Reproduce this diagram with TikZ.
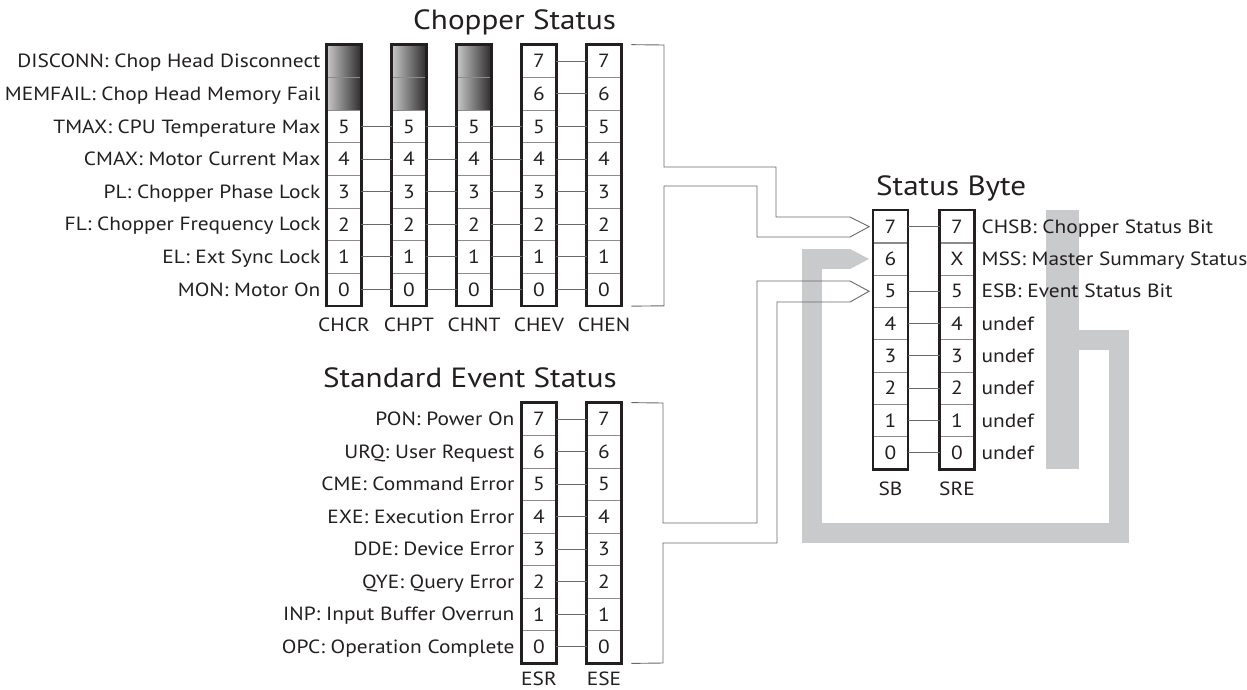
\documentclass[tikz,border=0pt]{standalone}
\usepackage{fontspec}
\setmainfont{PT Sans}[FakeStretch=1.12]
\usetikzlibrary{calc}
\definecolor{ink}{RGB}{35,31,32}
\definecolor{sumgray}{RGB}{201,202,204}
\definecolor{sepgray}{RGB}{140,140,140}
\definecolor{wiregray}{RGB}{105,105,105}
\tikzset{
  cell/.style={draw=sepgray, line width=0.8pt, minimum width=34pt, minimum height=32.5pt,
    inner sep=0pt, font=\fontsize{19.1}{19}\selectfont, text=ink},
  shadecell/.style={cell, left color=black!22, right color=black!82},
  frame/.style={draw=ink, line width=2.4pt},
  wire/.style={draw=wiregray, line width=0.9pt},
  bus/.style={draw=wiregray, line width=0.9pt},
  lbl/.style={inner sep=0pt, text height=13.3pt, text depth=0pt,
    font=\fontsize{19.1}{19}\selectfont, text=ink},
  collbl/.style={inner sep=0pt, anchor=base, font=\fontsize{19.1}{19}\selectfont, text=ink},
  title/.style={inner sep=0pt, anchor=base west, font=\fontsize{27.8}{28}\selectfont, text=ink},
}
\begin{document}
\begin{tikzpicture}[x=1pt,y=-1pt]
\useasboundingbox (0,0) rectangle (1247,689);

% ---------- summary (gray) bar, drawn first so text lies on top
\node[fill=sumgray, minimum width=33pt, minimum height=259pt, inner sep=0pt] (sumbar) at (1062.5,339.5) {};

% ---------- Chopper Status registers
\node[title] (tchop) at (413,29) {Chopper Status};
\foreach \n/\x in {cr/344,pt/409,nt/474,ev/539,en/604} {
  \foreach \r in {0,...,5} {
    \node[cell] (\n\r) at (\x,{45+(7.5-\r)*32.6}) {\r};
  }
}
\foreach \n/\x in {cr/344,pt/409,nt/474} {
  \foreach \r in {6,7} {
    \node[shadecell] (\n\r) at (\x,{45+(7.5-\r)*32.6}) {};
  }
}
\foreach \n/\x in {ev/539,en/604} {
  \foreach \r in {6,7} {
    \node[cell] (\n\r) at (\x,{45+(7.5-\r)*32.6}) {\r};
  }
}
\foreach \n/\t in {cr/CHCR,pt/CHPT,nt/CHNT,ev/CHEV,en/CHEN} {
  \draw[frame] (\n7.north west) rectangle (\n0.south east);
  \node[collbl] (\n lab) at ($(\n0.south)+(0,25)$) {\t};
}
\foreach \a/\b in {cr/pt,pt/nt,nt/ev,ev/en} {
  \foreach \r in {0,...,5} { \draw[wire] (\a\r.east) -- (\b\r.west); }
}
\foreach \r in {6,7} { \draw[wire] (ev\r.east) -- (en\r.west); }
\foreach \r/\t in {7/DISCONN: Chop Head Disconnect,6/MEMFAIL: Chop Head Memory Fail,
  5/TMAX: CPU Temperature Max,4/CMAX: Motor Current Max,3/PL: Chopper Phase Lock,
  2/FL: Chopper Frequency Lock,1/EL: Ext Sync Lock,0/MON: Motor On} {
  \node[lbl, anchor=east] (cl\r) at ($(cr\r.west)+(-6,0)$) {\t};
}

% ---------- Standard Event Status registers
\node[title] (tses) at (323,387) {Standard Event Status};
\foreach \n/\x in {esr/539,ese/604} {
  \foreach \r in {0,...,7} {
    \node[cell] (\n\r) at (\x,{403+(7.5-\r)*32.5}) {\r};
  }
}
\foreach \n/\t in {esr/ESR,ese/ESE} {
  \draw[frame] (\n7.north west) rectangle (\n0.south east);
  \node[collbl] (\n lab) at ($(\n0.south)+(0,22)$) {\t};
}
\foreach \r in {0,...,7} { \draw[wire] (esr\r.east) -- (ese\r.west); }
\foreach \r/\t in {7/PON: Power On,6/URQ: User Request,5/CME: Command Error,
  4/EXE: Execution Error,3/DDE: Device Error,2/QYE: Query Error,
  1/INP: Input Buffer Overrun,0/OPC: Operation Complete} {
  \node[lbl, anchor=east] (el\r) at ($(esr\r.west)+(-7,0)$) {\t};
}

% ---------- Status Byte
\node[title] (tsb) at (876,195) {Status Byte};
\foreach \r in {0,...,7} {
  \node[cell] (sb\r) at (890.5,{210.5+(7.5-\r)*32.3}) {\r};
}
\foreach \r/\t in {7/7,6/X,5/5,4/4,3/3,2/2,1/1,0/0} {
  \node[cell] (sre\r) at (957,{210.5+(7.5-\r)*32.3}) {\t};
}
\foreach \n/\t in {sb/SB,sre/SRE} {
  \draw[frame] (\n7.north west) rectangle (\n0.south east);
  \node[collbl] (\n lab) at ($(\n0.south)+(0,26)$) {\t};
}
\foreach \r in {7,5,4,3,2,1,0} { \draw[wire] (sb\r.east) -- (sre\r.west); }

% gray summary path into SB bit 6
\draw[sumgray, line width=20pt] (sumbar.east) -- (1119,339.5) -- (1119,533) -- (811.5,533) -- (811.5,259) -- (850.5,259);
\fill[sumgray] (850,249) -- ($(sb6.west)+(-4,0)$) -- (850,269) -- cycle;

\foreach \r/\t in {7/CHSB: Chopper Status Bit,6/MSS: Master Summary Status,5/ESB: Event Status Bit,
  4/undef,3/undef,2/undef,1/undef,0/undef} {
  \node[lbl, anchor=west] (sl\r) at ($(sre\r.east)+(7,0)$) {\t};
}

% ---------- hollow bus arrows
\draw[bus] ($(en7.north east)+(10,0)$) -- (664,45) -- (664,167) -- (776,167) -- (776,217) -- (850,217)
  -- ($(sb7.west)+(-4,0)$) -- (850,237) -- (757,237) -- (757,186) -- (664,186) -- (664,305.8)
  -- ($(en0.south east)+(10,0)$);
\draw[bus] ($(ese7.north east)+(10,0)$) -- (663,403) -- (663,523) -- (757,523) -- (757,281) -- (850,281)
  -- ($(sb5.west)+(-4,0)$) -- (850,302) -- (777,302) -- (777,543) -- (663,543) -- (663,663)
  -- ($(ese0.south east)+(10,0)$);
\end{tikzpicture}
\end{document}
